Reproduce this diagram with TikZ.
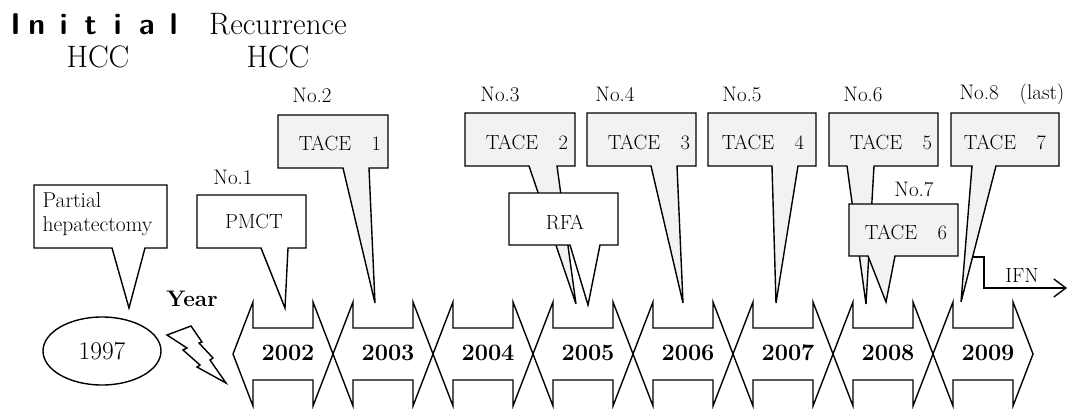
\documentclass[tikz,border=0pt]{standalone}
\usepackage{graphicx}
\usetikzlibrary{arrows.meta,shapes.geometric,calc}
\definecolor{tacegray}{HTML}{F2F2F2}
\newcommand\calloutshape[9]{%
  \filldraw[#1] (#2,#3) -- (#4,#3) -- (#4,#5) -- (#7,#5) -- (#8,#9) -- (#6,#5) -- (#2,#5) -- cycle;}
\newcommand\yeararrow[2]{%
  \draw[yearshape] (#1,354) -- ++(20,-52) -- ++(0,26) -- ++(60,0) -- ++(0,-26) -- ++(20,52)
    -- ++(-20,52) -- ++(0,-26) -- ++(-60,0) -- ++(0,26) -- cycle;
  \node[yearlab] (y#2) at ($(#1,353)+(55,0)$) {#2};}
\newcommand\ltr[1]{\makebox[0pt]{#1}}
\begin{document}
\begin{tikzpicture}[x=1pt,y=-1pt,
  every path/.style={line width=1.4pt,line join=miter},
  box/.style={draw=black,fill=white},
  gbox/.style={draw=black,fill=tacegray},
  yearshape/.style={draw=black},
  yearlab/.style={font=\fontsize{23.5}{26}\selectfont\bfseries,inner sep=0pt},
  lab/.style={font=\fontsize{20.5}{26}\selectfont,inner sep=0pt},
  nolab/.style={font=\fontsize{21}{26}\selectfont,inner sep=0pt},
  head/.style={font=\fontsize{31}{34}\selectfont,inner sep=0pt}]
\useasboundingbox (0,0) rectangle (1074,408);

% headings
\node[inner sep=0pt,anchor=base west] (initial) at (15,34)
  {\fontsize{30}{32}\selectfont\sffamily\bfseries
   \ltr{I}\hspace{21pt}\ltr{n}\hspace{27pt}\ltr{i}\hspace{27pt}\ltr{t}\hspace{27pt}\ltr{i}\hspace{29pt}\ltr{a}\hspace{27pt}\ltr{l}};
\node[head] (hcc1) at (98,57) {HCC};
\node[head] (recur) at (278,24) {Recurrence};
\node[head] (hcc2) at (278,57) {HCC};

% callouts
\calloutshape{box}{34}{185}{167}{248}{112}{145}{129}{308}
\node[lab,font=\fontsize{21.5}{24}\selectfont,align=left,anchor=west] (partial) at (42,214) {Partial\\hepatectomy};

\calloutshape{box}{197}{195}{306}{248}{261}{288}{285}{308}
\node[lab] (pmct) at (254,221) {PMCT};
\node[nolab] (no1) at (233,177) {No.1};

\calloutshape{gbox}{278}{115}{388}{168}{343}{369}{375}{303}
\node[lab] (tace1) at (340,143) {TACE\quad 1};
\node[nolab] (no2) at (312,95) {No.2};

\calloutshape{gbox}{465}{113}{575}{166}{529}{557}{576}{304}
\node[lab] (tace2) at (527,142) {TACE\quad 2};
\node[nolab] (no3) at (500,94) {No.3};

\calloutshape{box}{509}{193}{618}{245}{570}{600}{588}{305}
\node[lab] (rfa) at (565,222) {RFA};

\calloutshape{gbox}{587}{113}{696}{166}{651}{677}{683}{303}
\node[lab] (tace3) at (649,142) {TACE\quad 3};
\node[nolab] (no4) at (615,94) {No.4};

\calloutshape{gbox}{708}{113}{816}{166}{772}{798}{776}{303}
\node[lab] (tace4) at (763,142) {TACE\quad 4};
\node[nolab] (no5) at (742,94) {No.5};

\calloutshape{gbox}{829}{113}{938}{166}{847}{874}{866}{304}
\node[lab] (tace5) at (891,142) {TACE\quad 5};
\node[nolab] (no6) at (863,94) {No.6};

\calloutshape{gbox}{849}{204}{958}{256}{868}{895}{886}{302}
\node[lab] (tace6) at (906,232) {TACE\quad 6};
\node[nolab] (no7) at (914,189) {No.7};

\calloutshape{gbox}{951}{113}{1059}{166}{972}{996}{961}{302}
\node[lab] (tace7) at (1005,142) {TACE\quad 7};
\node[nolab] (no8) at (1012,94) {No.8\quad(last)};

% IFN
\coordinate (ifnstart) at (972.6,257);
\coordinate (ifnend) at (1067,288);
\draw[-{Straight Barb[length=12pt,width=18pt,line width=1.4pt]}] (ifnstart) -- (984,257) |- (ifnend);
\node[lab] (ifn) at (1022,275) {IFN};

% 1997 and lightning
\node[draw=black,ellipse,minimum width=118pt,minimum height=68pt,inner sep=0pt,
      font=\fontsize{25.5}{26}\selectfont] (y1997) at (102,351) {1997};
\draw[fill=white] (167,335) -- (191,326) -- (202,342) -- (199,343) -- (213,358) -- (210,360)
  -- (226,383) -- (197,367) -- (200,365) -- (183,350) -- (187,348) -- cycle;
\node[font=\fontsize{22.5}{26}\selectfont\bfseries,inner sep=0pt] (year) at (192,299) {Year};

% year arrows
\yeararrow{233}{2002}
\yeararrow{333}{2003}
\yeararrow{433}{2004}
\yeararrow{533}{2005}
\yeararrow{633}{2006}
\yeararrow{733}{2007}
\yeararrow{833}{2008}
\yeararrow{933}{2009}
\end{tikzpicture}
\end{document}
